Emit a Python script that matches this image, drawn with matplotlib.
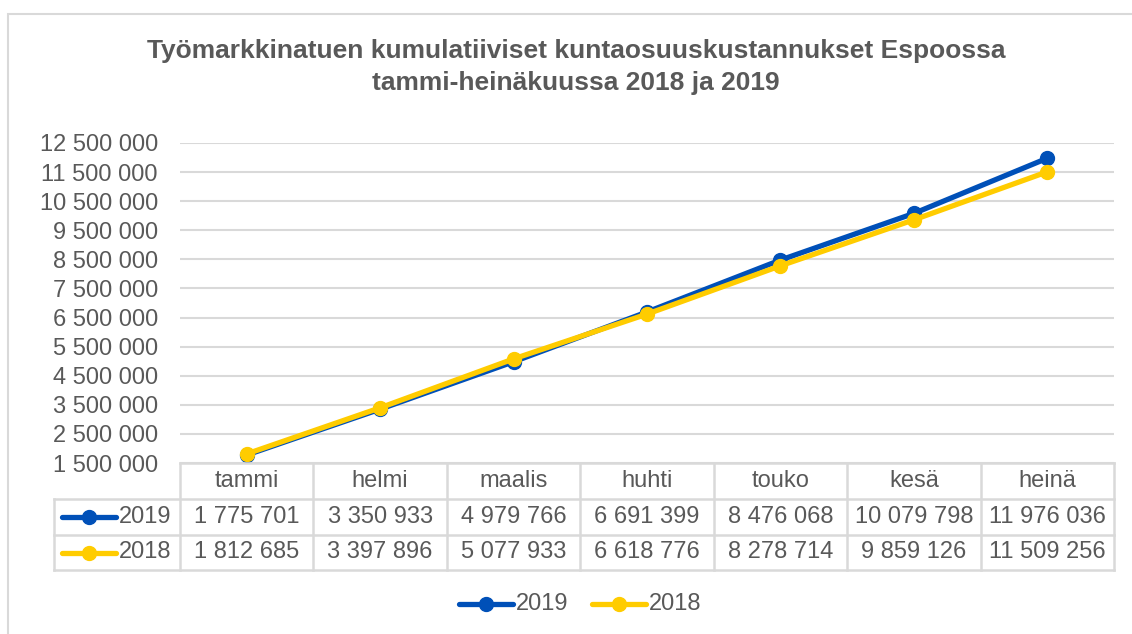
import matplotlib.pyplot as plt
from matplotlib.lines import Line2D
from matplotlib.patches import Rectangle
import matplotlib.transforms as mtransforms

plt.rcParams['font.family'] = ['Liberation Sans', 'DejaVu Sans']

# data
months = ['tammi', 'helmi', 'maalis', 'huhti', 'touko', 'kesä', 'heinä']
series_names = ['2019', '2018']
values_2019 = [1775701, 3350933, 4979766, 6691399, 8476068, 10079798, 11976036]
values_2018 = [1812685, 3397896, 5077933, 6618776, 8278714, 9859126, 11509256]
y_ticks = [1500000 + 1000000 * i for i in range(12)]

title = ('Työmarkkinatuen kumulatiiviset kuntaosuuskustannukset Espoossa\n'
         'tammi-heinäkuussa 2018 ja 2019')

BLUE = '#0050B8'
YELLOW = '#FFCC00'
TEXT = '#595959'
GRID = '#D9D9D9'
FS = 17


def fmt(v):
    return f'{v:,}'.replace(',', ' ')


W, H = 1132, 634
fig = plt.figure(figsize=(W / 100, H / 100), dpi=100)

# outer chart border
fig.patches.append(Rectangle((8 / W, -0.1), 1.2, (H - 14) / H + 0.1,
                             transform=fig.transFigure, fill=False,
                             edgecolor=GRID, linewidth=1.5))

# plot area
left, right, top, bottom = 180, 1114, 143, 463
ax = fig.add_axes([left / W, (H - bottom) / H, (right - left) / W, (bottom - top) / H])
x = list(range(len(months)))

ax.plot(x, values_2019, color=BLUE, lw=3.8, marker='o', ms=10, solid_capstyle='round', zorder=3)
ax.plot(x, values_2018, color=YELLOW, lw=3.8, marker='o', ms=10, solid_capstyle='round', zorder=4)

ax.set_xlim(-0.5, len(months) - 0.5)
ax.set_ylim(y_ticks[0], y_ticks[-1])
ax.set_yticks(y_ticks)
ax.set_yticklabels([fmt(t) for t in y_ticks])
ax.tick_params(axis='y', length=0, pad=16, labelsize=FS, labelcolor=TEXT)
ax.set_xticks([])
ax.grid(axis='y', color=GRID, lw=1.5)
ax.set_axisbelow(True)
for s in ax.spines.values():
    s.set_visible(False)

fig.text(576 / W, 1 - 67 / H, title, ha='center', va='center', fontsize=19,
         fontweight='bold', color=TEXT, linespacing=1.42)

# data table below the axes (x in data units, y in pixels of figure)
px = lambda p: (H - p) / H
ft = fig.transFigure
bt = mtransforms.blended_transform_factory(ax.transData, ft)
row_edges = [463, 499, 535, 570]
label_left = 54
lkw = dict(color=GRID, lw=1.8, clip_on=False)

# horizontal lines
fig.add_artist(Line2D([left / W, right / W], [px(row_edges[0])] * 2, transform=ft, **lkw))
for r in row_edges[1:]:
    fig.add_artist(Line2D([label_left / W, right / W], [px(r)] * 2, transform=ft, **lkw))
# vertical lines
fig.add_artist(Line2D([label_left / W] * 2, [px(row_edges[1]), px(row_edges[3])], transform=ft, **lkw))
for i in range(len(months) + 1):
    fig.add_artist(Line2D([i - 0.5] * 2, [px(row_edges[0]), px(row_edges[3])], transform=bt, **lkw))

for i, m in enumerate(months):
    fig.text(i, px((row_edges[0] + row_edges[1]) / 2), m, transform=bt,
             ha='center', va='center', fontsize=FS, color=TEXT)
    for r, vals in enumerate([values_2019, values_2018]):
        fig.text(i, px((row_edges[r + 1] + row_edges[r + 2]) / 2), fmt(vals[i]),
                 transform=bt, ha='center', va='center', fontsize=FS, color=TEXT)


def legend_key(x0, x1, y, color, label):
    fig.add_artist(Line2D([x0 / W, x1 / W], [px(y)] * 2, transform=ft, color=color,
                          lw=3.8, solid_capstyle='round'))
    fig.add_artist(Line2D([(x0 + x1) / 2 / W], [px(y)], transform=ft, color=color,
                          marker='o', ms=10))
    fig.text((x1 + 3) / W, px(y), label, ha='left', va='center', fontsize=FS, color=TEXT)


for r, (name, col) in enumerate(zip(series_names, [BLUE, YELLOW])):
    legend_key(62, 116, (row_edges[r + 1] + row_edges[r + 2]) / 2, col, name)

legend_key(459, 513, 604, BLUE, series_names[0])
legend_key(592, 646, 604, YELLOW, series_names[1])

fig.savefig('out.png', dpi=100, facecolor='white')
